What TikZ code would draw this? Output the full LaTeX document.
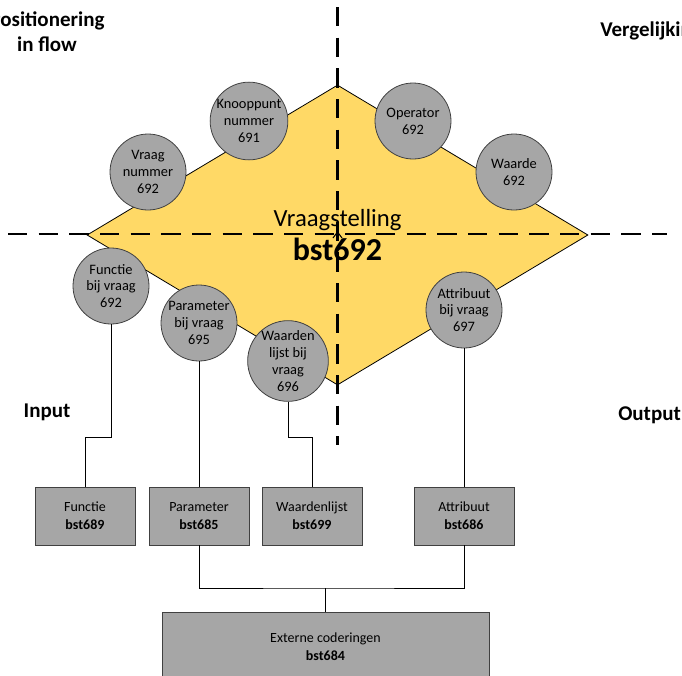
\documentclass[tikz,border=0pt]{standalone}
\usepackage{fontspec}
\setmainfont{Carlito}
\usetikzlibrary{positioning,shapes.geometric}
\definecolor{qgold}{HTML}{FFD966}
\definecolor{qgrey}{HTML}{A6A6A6}
\definecolor{qedge}{HTML}{404040}
\tikzset{
  vraagshape/.style={diamond,draw=black,fill=qgold,line width=0.6pt,inner sep=0pt,
                     minimum width=375.75pt,minimum height=225pt,align=center,
                     font=\fontsize{18.5}{26}\selectfont},
  attrcircle/.style={circle,draw=qedge,fill=qgrey,line width=0.6pt,inner sep=0pt,
                     minimum size=57pt,align=center,
                     font=\fontsize{10.8}{12.6}\selectfont},
  srcbox/.style={rectangle,draw=qedge,fill=qgrey,line width=0.6pt,inner sep=0pt,
                 minimum width=75pt,minimum height=43.5pt,align=center,
                 font=\fontsize{10.5}{13.5}\selectfont},
  conn/.style={draw=black,line width=0.75pt},
  axisline/.style={draw=black,line width=1.9pt,dash pattern=on 14.5pt off 8.5pt},
  sidelabel/.style={font=\bfseries\fontsize{15.75}{18.75}\selectfont,align=center,
                    inner sep=0pt}
}

\begin{document}
\begin{tikzpicture}[x=0.75pt,y=-0.75pt]
  \useasboundingbox (0,0) rectangle (682,675);

  \node[vraagshape] (vraagst) at (337.5,235)
    {Vraagstelling\\{\bfseries\fontsize{24}{26}\selectfont bst692}};

  \node[attrcircle] (cVraag)   at (148,172) {Vraag\\nummer\\692};
  \node[attrcircle] (cKnoop)   at (249,121) {Knooppunt\\nummer\\691};
  \node[attrcircle] (cOper)    at (413,121) {Operator\\692};
  \node[attrcircle] (cWaarde)  at (514,172) {Waarde\\692};
  \node[attrcircle] (cFunctie) at (111,286) {Functie\\bij vraag\\692};
  \node[attrcircle] (cParam)   at (199,323) {Parameter\\bij vraag\\695};
  \node[attrcircle] (cWlijst)  at (288,361) {Waarden\\lijst bij\\vraag\\696};
  \node[attrcircle] (cAttr)    at (464,310) {Attribuut\\bij vraag\\697};

  % assen
  \draw[axisline] (8,234) -- (667,234);
  \draw[axisline] (337.5,7) -- (337.5,445);
  \draw[line width=0.8pt] (333,238) -- (337.5,232) -- (342,238);

  \node[sidelabel] (posflow) at (47,31.5) {Positionering\\in flow};
  \node[sidelabel,anchor=west] (vergel) at (600,31) {Vergelijking};
  \node[sidelabel] (input) at (47,412) {Input};
  \node[sidelabel,anchor=west] (output) at (618,415) {Output};

  \node[srcbox] (bFunctie) at (85,516)    {Functie\\\textbf{bst689}};
  \node[srcbox] (bParam)   at (199,516)   {Parameter\\\textbf{bst685}};
  \node[srcbox] (bWlijst)  at (312,516)   {Waardenlijst\\\textbf{bst699}};
  \node[srcbox] (bAttr)    at (464,516)   {Attribuut\\\textbf{bst686}};
  \node[srcbox,minimum width=245.25pt,minimum height=52.5pt] (bExtern) at (325.5,647)
    {Externe coderingen\\\textbf{bst684}};

  \coordinate (jFunctie) at (85,437);
  \coordinate (jWlijst) at (312,437);
  \coordinate (merge) at (325.5,588);

  \draw[conn] (cFunctie) |- (jFunctie) -- (bFunctie);
  \draw[conn] (cParam) -- (bParam);
  \draw[conn] (cWlijst) |- (jWlijst) -- (bWlijst);
  \draw[conn] (cAttr) -- (bAttr);
  \draw[conn] (bParam) |- (merge) -| (bAttr);
  \draw[conn] (merge) -- (bExtern);
\end{tikzpicture}
\end{document}
